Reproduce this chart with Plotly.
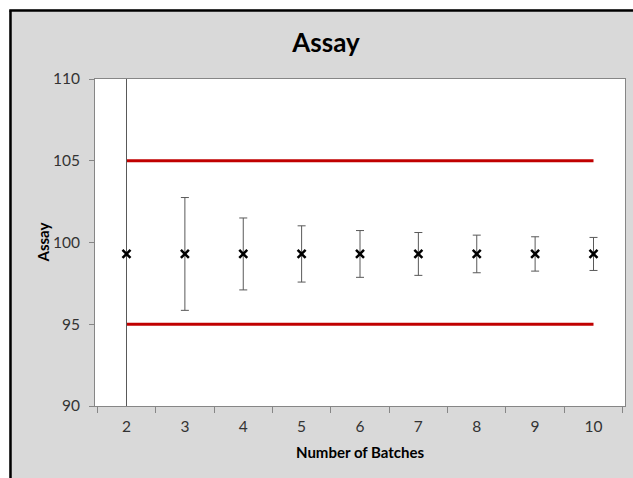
import plotly.graph_objects as go

# ---- data ----
batches = ["2", "3", "4", "5", "6", "7", "8", "9", "10"]
assay_mean = [99.3, 99.3, 99.3, 99.3, 99.3, 99.3, 99.3, 99.3, 99.3]
assay_err = [12.5, 3.45, 2.2, 1.72, 1.43, 1.31, 1.15, 1.05, 1.01]
limit_x = ["2", "10"]
upper_limit = [105, 105]
lower_limit = [95, 95]
y_ticks = [90, 95, 100, 105, 110]

W, H = 633, 478
L, R, T, B = 95, 8, 79, 72
pw, ph = W - L - R, H - T - B


def px_x(p):
    return (p - L) / pw


def px_y(p):
    return (H - B - p) / ph


fig = go.Figure()
fig.add_trace(go.Scatter(x=limit_x, y=upper_limit, mode="lines",
                         line=dict(color="#C00000", width=3), showlegend=False,
                         hoverinfo="skip"))
fig.add_trace(go.Scatter(x=limit_x, y=lower_limit, mode="lines",
                         line=dict(color="#C00000", width=3), showlegend=False,
                         hoverinfo="skip"))
fig.add_trace(go.Scatter(
    x=batches, y=assay_mean, mode="markers",
    marker=dict(symbol="x-thin", size=8, color="black",
                line=dict(color="black", width=2.5)),
    error_y=dict(type="data", array=assay_err, visible=True,
                 color="#595959", thickness=1, width=4),
    showlegend=False))

grey = "#868686"
font = "Lato"
tickfont = dict(size=15.5, color="#333333", family="Lato")
fig.update_layout(
    width=W, height=H,
    margin=dict(l=L, r=R, t=T, b=B),
    paper_bgcolor="#D9D9D9",
    plot_bgcolor="white",
    font=dict(family=font, color="#333333"),
    title=dict(text="<b>Assay</b>", x=326 / W, xref="container",
               y=1 - 43 / H, yref="container", xanchor="center", yanchor="middle",
               font=dict(size=26, color="black", family=font)),
    xaxis=dict(type="category", categoryorder="array", categoryarray=batches,
               tickson="boundaries", ticks="outside", ticklen=6, tickcolor=grey,
               showline=True, linecolor=grey, linewidth=1, mirror=True,
               showgrid=False, zeroline=False, ticklabelstandoff=6,
               tickfont=tickfont),
    yaxis=dict(range=[90, 110], tickvals=y_ticks, ticks="outside", ticklen=5,
               tickcolor=grey, showline=True, linecolor=grey, linewidth=1,
               mirror=True, showgrid=False, zeroline=False,
               ticklabelstandoff=6,
               tickfont=tickfont),
    annotations=[
        dict(text="<b>Number of Batches</b>", x=px_x(360), y=px_y(452),
             xref="paper", yref="paper", showarrow=False,
             xanchor="center", yanchor="middle",
             font=dict(size=15, color="black", family=font)),
        dict(text="<b>Assay</b>", x=px_x(42), y=0.5, textangle=-90,
             xref="paper", yref="paper", showarrow=False,
             xanchor="center", yanchor="middle",
             font=dict(size=15, color="black", family=font)),
    ],
    shapes=[
        dict(type="rect", xref="paper", yref="paper", x0=px_x(-5), x1=px_x(9),
             y0=px_y(H + 10), y1=px_y(-10), fillcolor="white", line=dict(width=0)),
        dict(type="rect", xref="paper", yref="paper", x0=px_x(-5), x1=px_x(W + 10),
             y0=px_y(9), y1=px_y(-10), fillcolor="white", line=dict(width=0)),
        dict(type="line", xref="paper", yref="paper", x0=px_x(10.5), x1=px_x(10.5),
             y0=px_y(H + 10), y1=px_y(10.5), line=dict(color="black", width=2.5)),
        dict(type="line", xref="paper", yref="paper", x0=px_x(9.3), x1=px_x(W + 10),
             y0=px_y(10.5), y1=px_y(10.5), line=dict(color="black", width=2.5)),
    ],
)

fig.write_html("out.html")
